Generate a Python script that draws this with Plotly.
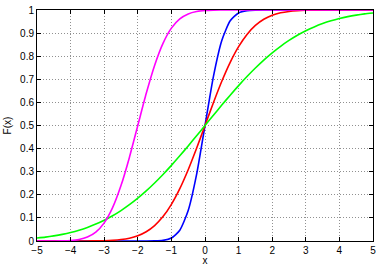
import plotly.graph_objects as go

x_vals = [-5 + 0.25 * i for i in range(41)]

blue_left = [0, 0, 0, 0, 0, 0, 0, 0, 0, 0, 0, 0, 0, 0, 0.0004, 0.0026, 0.0127, 0.0468, 0.1318, 0.2881]
red_left = [0, 0, 0, 0, 0.00003, 0.0001, 0.0002, 0.0006, 0.0013, 0.0030, 0.0062, 0.0122, 0.0228,
            0.0401, 0.0668, 0.1056, 0.1587, 0.2266, 0.3085, 0.4013]
green_left = [0.0127, 0.0168, 0.0221, 0.0287, 0.0368, 0.0468, 0.0588, 0.0731, 0.0899, 0.1094,
              0.1318, 0.1572, 0.1855, 0.2169, 0.2512, 0.2881, 0.3274, 0.3687, 0.4115, 0.4555]

blue_vals = blue_left + [0.5] + [round(1 - v, 5) for v in reversed(blue_left)]
red_vals = red_left + [0.5] + [round(1 - v, 5) for v in reversed(red_left)]
green_vals = green_left + [0.5] + [round(1 - v, 5) for v in reversed(green_left)]
magenta_vals = [0, 0.00005, 0.0002, 0.0007, 0.0023, 0.0067, 0.0170, 0.0385, 0.0786, 0.1444,
                0.2398, 0.3618, 0.5, 0.6382, 0.7602, 0.8556, 0.9214, 0.9615, 0.9830, 0.9933,
                0.9977, 0.9993, 0.9998, 0.99995, 1, 1, 1, 1, 1, 1, 1, 1, 1, 1, 1, 1, 1, 1, 1, 1, 1]

x_ticks = [-5, -4, -3, -2, -1, 0, 1, 2, 3, 4, 5]
y_ticks = [0, 0.1, 0.2, 0.3, 0.4, 0.5, 0.6, 0.7, 0.8, 0.9, 1]
y_tick_text = ["0", "0.1", "0.2", "0.3", "0.4", "0.5", "0.6", "0.7", "0.8", "0.9", "1"]

series = [
    (blue_vals, "#0000ff"),
    (red_vals, "#ff0000"),
    (green_vals, "#00ff00"),
    (magenta_vals, "#ff00ff"),
]

FONT = "Liberation Sans, Arial, sans-serif"

fig = go.Figure()
for ys, col in series:
    fig.add_trace(go.Scatter(x=x_vals, y=ys, mode="lines",
                             line=dict(color=col, width=1.6, shape="spline", smoothing=0.6),
                             showlegend=False))

axis_common = dict(
    showline=True, linecolor="black", linewidth=1, mirror="ticks",
    ticks="inside", ticklen=4, tickcolor="black",
    showgrid=True, gridcolor="#909090", griddash="1px,2px", gridwidth=1,
    zeroline=False, automargin=False, ticklabeloverflow="allow",
    tickfont=dict(family=FONT, size=10, color="black"),
)

fig.update_layout(
    width=376, height=266,
    margin=dict(l=37, r=3, t=10, b=25),
    paper_bgcolor="white", plot_bgcolor="white",
    xaxis=dict(range=[-5, 5], tickvals=x_ticks, **axis_common,
               title=dict(text="x", standoff=3,
                          font=dict(family=FONT, size=10, color="black"))),
    yaxis=dict(range=[0, 1], tickvals=y_ticks, ticktext=y_tick_text, **axis_common,
               title=dict(text="F(x)", standoff=6,
                          font=dict(family=FONT, size=10, color="black"))),
)

fig.write_html("out.html", config={"displayModeBar": False},
               post_script="document.body.style.margin='0';document.body.style.overflow='hidden';")
